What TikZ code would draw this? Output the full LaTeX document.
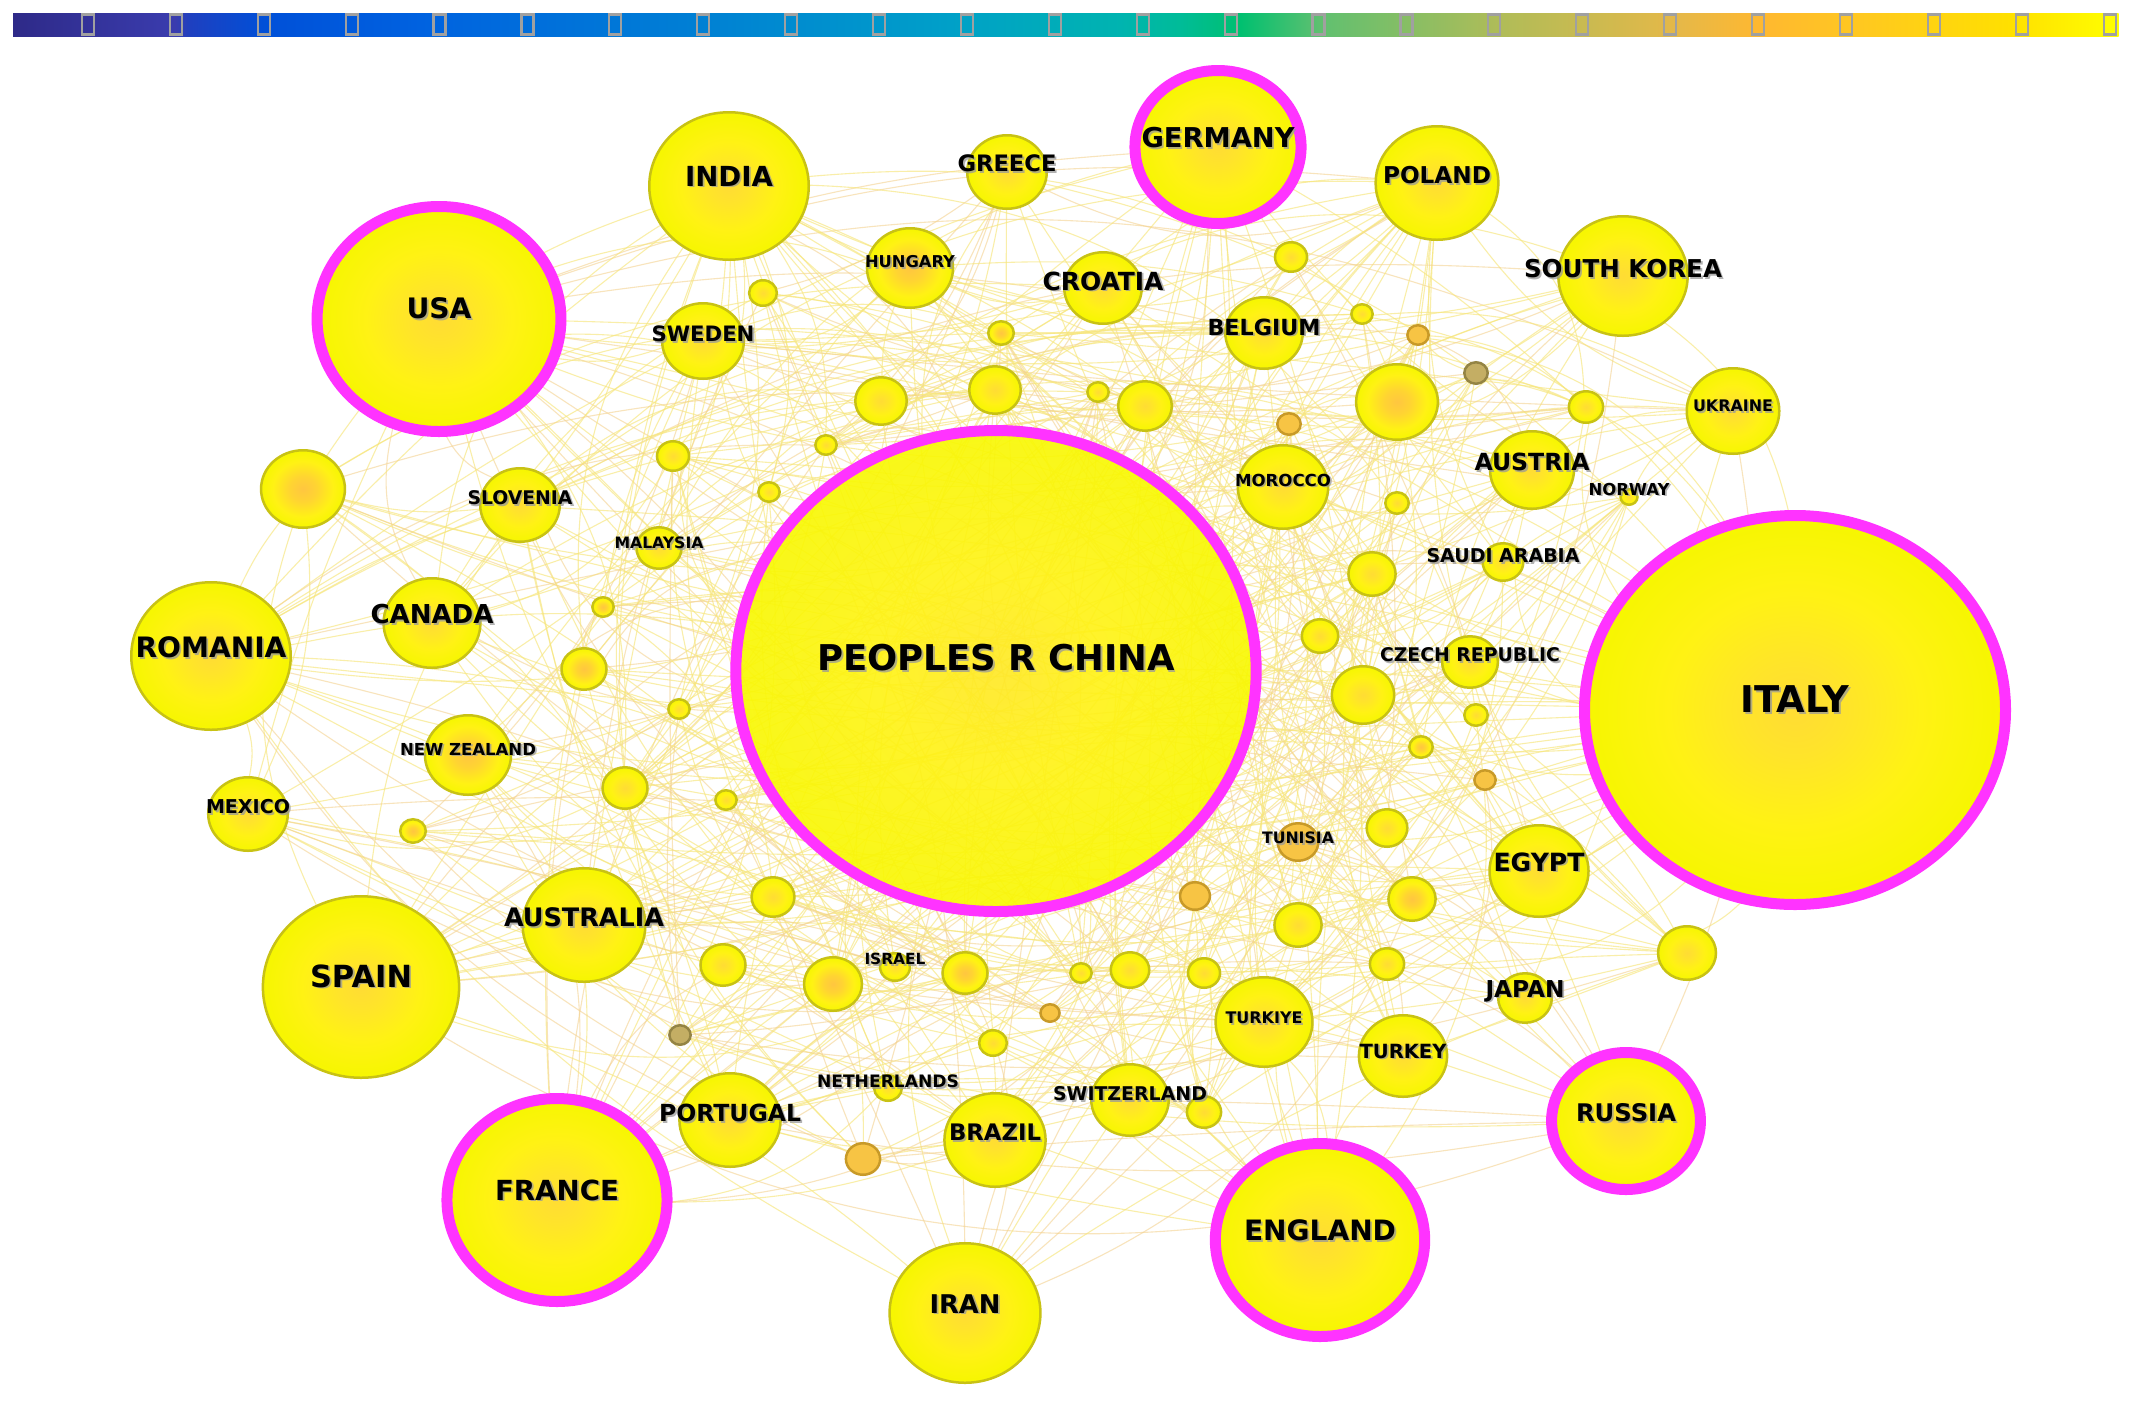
\documentclass[tikz,border=0pt]{standalone}
\usepackage{fontspec}
\usepackage{graphicx}
\usetikzlibrary{shapes.geometric}
\newfontfamily\labfont{DejaVu Sans}
\definecolor{ballin}{HTML}{FFDC34}
\definecolor{ballmid}{HTML}{FFE42A}
\definecolor{ballhi}{HTML}{FFF214}
\definecolor{ballout}{HTML}{F6F600}
\definecolor{borin}{HTML}{FFC640}
\definecolor{bormid}{HTML}{FFD432}
\definecolor{chin}{HTML}{FFE824}
\definecolor{chout}{HTML}{F8F800}
\definecolor{rimc}{HTML}{C8C214}
\definecolor{ringc}{HTML}{FF33FF}
\definecolor{orfill}{HTML}{F7C444}
\definecolor{orrim}{HTML}{C89A28}
\definecolor{olfill}{HTML}{C4AE64}
\definecolor{olrim}{HTML}{948444}
\definecolor{edgeA}{HTML}{F4D290}
\definecolor{edgeB}{HTML}{F7E67C}
\definecolor{tickc}{HTML}{A0A0A0}
\definecolor{cb0}{HTML}{2E2A88}
\definecolor{cb1}{HTML}{3A3CAE}
\definecolor{cb2}{HTML}{1E40C0}
\definecolor{cb3}{HTML}{0050D8}
\definecolor{cb4}{HTML}{0062E0}
\definecolor{cb5}{HTML}{0080D4}
\definecolor{cb6}{HTML}{00A0C8}
\definecolor{cb7}{HTML}{00B4B0}
\definecolor{cb8}{HTML}{00BC98}
\definecolor{cb9}{HTML}{00C070}
\definecolor{cb10}{HTML}{60C070}
\definecolor{cb11}{HTML}{B0BC58}
\definecolor{cb12}{HTML}{E6B848}
\definecolor{cb13}{HTML}{FFB830}
\definecolor{cb14}{HTML}{FFC820}
\definecolor{cb15}{HTML}{FFE000}
\definecolor{cb16}{HTML}{FFFF00}
\pgfdeclareradialshading{shA}{\pgfpoint{0bp}{0bp}}{color(0bp)=(ballin); color(6bp)=(ballmid); color(15bp)=(ballhi); color(25bp)=(ballout); color(50bp)=(ballout)}
\pgfdeclareradialshading{shB}{\pgfpoint{0bp}{0bp}}{color(0bp)=(borin); color(8bp)=(bormid); color(18bp)=(ballhi); color(25bp)=(ballout); color(50bp)=(ballout)}
\pgfdeclareradialshading{shC}{\pgfpoint{0bp}{0bp}}{color(0bp)=(chin); color(10bp)=(ballhi); color(25bp)=(chout); color(50bp)=(chout)}
\pgfdeclarelayer{edges}
\pgfsetlayers{edges,main}
\tikzset{
  ballbase/.style={ellipse, inner sep=0pt, outer sep=0pt},
  ballN/.style={ballbase, shade, shading=shA, draw=rimc, line width=1.25pt,
    minimum height={#1*1pt-1.25pt}, minimum width={1.08*#1*1pt-1.25pt}},
  ballB/.style={ballN=#1, shading=shB},
  ballR/.style={ballbase, shade, shading=shA, draw=ringc, line width=5.5pt,
    minimum height={#1*1pt-5.5pt}, minimum width={1.08*#1*1pt-5.5pt}},
  ballC/.style={ballR=#1, shading=shC, fill opacity=0.9},
  ballO/.style={ballbase, fill=orfill, draw=orrim, line width=1.25pt,
    minimum height={#1*1pt-1.25pt}, minimum width={1.08*#1*1pt-1.25pt}},
  ballG/.style={ballbase, fill=olfill, draw=olrim, line width=1.25pt,
    minimum height={#1*1pt-1.25pt}, minimum width={1.08*#1*1pt-1.25pt}},
  lab/.style={inner sep=0pt, text=black},
  labsh/.style={inner sep=0pt, text=black!40, opacity=0.75},
  edgeyA/.style={draw=edgeA, line width=0.55pt, opacity=0.6},
  edgeyB/.style={draw=edgeB, line width=0.55pt, opacity=0.65},
  tickst/.style={draw=tickc, line width=1.1pt}
}
\begin{document}
\begin{tikzpicture}[x=0.5pt,y=-0.5pt]
\useasboundingbox (0,0) rectangle (2129,1409);
% colour bar
\foreach \xa/\xb/\ca/\cb in {13/175/cb0/cb1, 175/190/cb1/cb2, 190/265/cb2/cb3, 265/420/cb3/cb4,
  420/700/cb4/cb5, 700/950/cb5/cb6, 950/1120/cb6/cb7, 1120/1180/cb7/cb8, 1180/1240/cb8/cb9,
  1240/1320/cb9/cb10, 1320/1500/cb10/cb11, 1500/1680/cb11/cb12, 1680/1760/cb12/cb13,
  1760/1860/cb13/cb14, 1860/2010/cb14/cb15, 2010/2118/cb15/cb16}{
  \shade[left color=\ca, right color=\cb] (\xa,13) rectangle (\xb+0.6,36);
}
\foreach \k in {1,...,24}{
  \draw[tickst] ({87.9*\k-6},14.5) rectangle ({87.9*\k+6},34.5);
}
% nodes
\foreach \i/\px/\py/\r/\s in {
1/996/671/246/C, 2/1795/710/200/R, 3/439/319/118/R, 4/1218/147/82/R, 5/557/1200/107/R,
6/1320/1240/102/R, 7/1626/1121/74/R, 8/729/186/75/N, 9/1007/172/38/N, 10/1437/183/58/N,
11/1623/276/61/N, 12/910/268/41/B, 13/1103/288/37/N, 14/1264/333/37/N, 15/703/341/39/N,
16/1733/411/44/N, 17/1532/470/40/N, 18/1629/497/9/N, 19/1283/487/43/N, 20/1503/562/20/N,
21/1470/662/27/N, 22/520/505/38/N, 23/659/548/22/N, 24/432/623/46/N, 25/211/656/75/N,
26/468/755/41/B, 27/248/814/38/N, 28/361/987/92/N, 29/584/925/58/N, 30/730/1120/48/N,
31/888/1088/14/N, 32/895/967/15/N, 33/995/1140/48/N, 34/1130/1100/37/N, 35/965/1313/71/N,
36/1264/1022/46/N, 37/1403/1056/42/N, 38/1525/998/26/N, 39/1539/871/47/N, 40/1298/842/20/O,
41/303/489/40/B, 42/763/293/14/N, 43/1001/333/13/B, 44/881/401/25/N, 45/995/390/25/N,
46/1098/392/11/N, 47/1145/406/26/N, 48/1291/257/16/N, 49/1362/314/11/N, 50/1418/335/11/O,
51/1476/373/12/G, 52/1397/402/39/B, 53/1289/424/12/O, 54/1586/407/17/N, 55/673/456/16/N,
56/826/445/11/N, 57/769/492/11/N, 58/1397/503/12/N, 59/1372/574/23/N, 60/1320/636/18/N,
61/1363/695/30/N, 62/1476/715/12/N, 63/1421/747/12/B, 64/1485/780/11/O, 65/603/607/11/B,
66/584/669/22/B, 67/679/709/11/N, 68/726/800/11/N, 69/625/788/22/N, 70/413/831/13/B,
71/773/897/21/N, 72/1387/828/20/N, 73/1195/896/15/O, 74/1412/899/23/B, 75/1298/925/23/N,
76/723/965/22/N, 77/833/984/28/B, 78/965/973/22/B, 79/1081/973/11/N, 80/1130/970/19/N,
81/1204/973/16/N, 82/1387/964/17/N, 83/1687/953/28/N, 84/680/1035/11/G, 85/993/1043/14/N,
86/1050/1013/10/O, 87/1204/1112/17/N, 88/863/1159/17/O}{
  \expandafter\xdef\csname rad\i\endcsname{\r}
  \edef\mknode{\noexpand\node[ball\s=\r] (n\i) at (\px,\py) {};}
  \mknode
}
% connectors
\begin{pgfonlayer}{edges}
\fill[white] (0,0) rectangle (2129,1409);
\foreach \i in {1,...,87}{
  \pgfmathtruncatemacro\jst{\i+1}
  \foreach \j in {\jst,...,88}{
    \edef\hashA{\the\numexpr \i*\i*7+\j*13+\i*\j*29+3*\j*\j\relax}
    \edef\hashH{\the\numexpr \hashA-97*((\hashA-48)/97)\relax}
    \edef\thrV{\the\numexpr (\csname rad\i\endcsname+\csname rad\j\endcsname)/5+2\relax}
    \ifnum\hashH<\thrV\relax
      \edef\bendV{\the\numexpr \hashA-53*((\hashA-26)/53)-26\relax}
      \ifodd\hashA
        \draw[edgeyA] (n\i) to[bend left=\bendV] (n\j);
      \else
        \draw[edgeyB] (n\i) to[bend left=\bendV] (n\j);
      \fi
    \fi
  }
}
\end{pgfonlayer}
% labels
\foreach \i/\w/\d/\t in {
1/178.5/6.5/PEOPLES R CHINA, 2/54.5/5.5/ITALY, 3/32.5/5.5/USA, 4/76.5/4.5/GERMANY,
5/62/5/FRANCE, 6/76/4.7/ENGLAND, 7/50/4/RUSSIA, 8/44/5/INDIA, 9/49.5/4.5/GREECE,
10/54/4/POLAND, 11/99/3.5/SOUTH KOREA, 12/45/3/HUNGARY, 13/60.5/3.5/CROATIA,
14/56.5/3/BELGIUM, 15/51.5/3.5/SWEDEN, 16/40/2.7/UKRAINE, 17/57.5/4/AUSTRIA,
18/40.5/4/NORWAY, 19/48/3.5/MOROCCO, 20/76.5/3/SAUDI ARABIA, 21/90/3.5/CZECH REPUBLIC,
22/52.5/3.5/SLOVENIA, 23/44.5/2.5/MALAYSIA, 24/61.5/4.5/CANADA, 25/75.5/4.5/ROMANIA,
26/68/3/NEW ZEALAND, 27/42/3.5/MEXICO, 28/51/5.5/SPAIN, 29/80/4/AUSTRALIA,
30/71/3.5/PORTUGAL, 31/71/3.5/NETHERLANDS, 32/30.5/4/ISRAEL, 33/46/4/BRAZIL,
34/77/3/SWITZERLAND, 35/35.5/4.7/IRAN, 36/38.5/2/TURKIYE, 37/43.5/2.5/TURKEY,
38/39.5/3.5/JAPAN, 39/45.5/4.5/EGYPT, 40/36/2/TUNISIA}{
  \node[labsh] (s\i) at ([xshift=0.9pt,yshift={\d*1pt-0.9pt}]n\i.center)
    {\resizebox{\w pt}{!}{\labfont\bfseries \t}};
  \node[lab] (l\i) at ([yshift={\d*1pt}]n\i.center)
    {\resizebox{\w pt}{!}{\labfont\bfseries \t}};
}
\end{tikzpicture}
\end{document}
